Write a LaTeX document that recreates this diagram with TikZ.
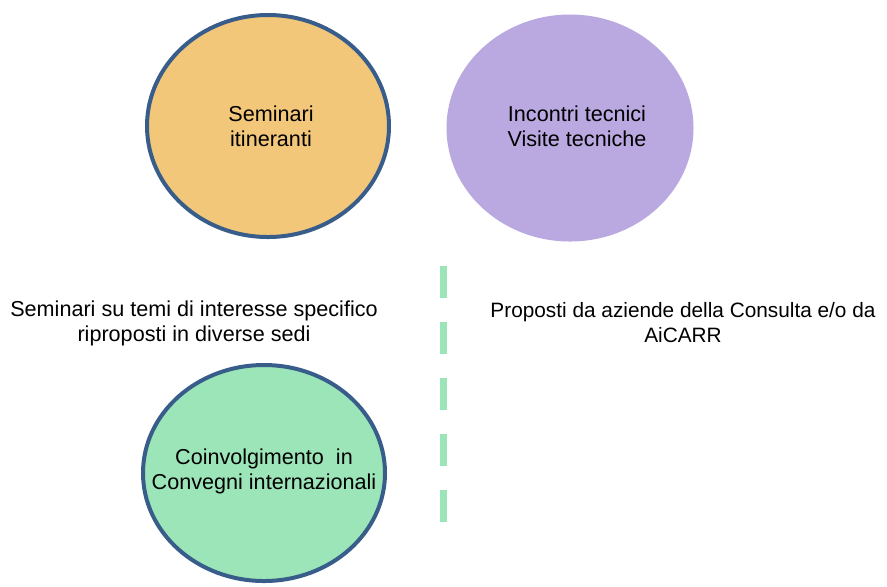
\documentclass[tikz,border=0pt]{standalone}
\usepackage{fontspec}
\setmainfont{Liberation Sans}
\usetikzlibrary{shapes.geometric}
\definecolor{bordo}{HTML}{385D8A}
\definecolor{arancio}{HTML}{F2C77A}
\definecolor{lilla}{HTML}{BAA8E0}
\definecolor{verde}{HTML}{9BE5B8}
\tikzset{
  bolla/.style={ellipse, inner sep=0pt},
  nota/.style={align=center, font=\fontsize{10.8}{12.5}\selectfont}
}
\begin{document}
\begin{tikzpicture}[x=0.5pt, y=-0.5pt]
\useasboundingbox (0,0) rectangle (887,586);

\node[bolla, fill=arancio, draw=bordo, line width=2pt,
  minimum width=121pt, minimum height=111pt] (sem) at (268,126) {};
\node[bolla, fill=lilla,
  minimum width=123.5pt, minimum height=113.5pt] (inc) at (570,128) {};
\node[bolla, fill=verde, draw=bordo, line width=2pt,
  minimum width=121pt, minimum height=108pt] (conv) at (264,473) {};

\node[nota] (semlab) at ([xshift=1.5pt]sem.center) {Seminari\\itineranti};
\node[nota] (inclab) at ([xshift=3.5pt,yshift=1pt]inc.center) {Incontri tecnici\\Visite tecniche};
\node[nota] (convlab) at ([yshift=1pt]conv.center) {Coinvolgimento\ \ in\\Convegni internazionali};

\node[nota] (semtxt) at (194,323) {Seminari su temi di interesse specifico\\riproposti in diverse sedi};
\node[nota, font=\fontsize{10.4}{12.5}\selectfont] (inctxt) at (683,323) {Proposti da aziende della Consulta e/o da\\AiCARR};

\coordinate (D1) at (443,266);
\coordinate (D2) at (443,522);
\draw[verde, line width=3.5pt, dash pattern=on 16pt off 12pt] (D1) -- (D2);
\end{tikzpicture}
\end{document}
